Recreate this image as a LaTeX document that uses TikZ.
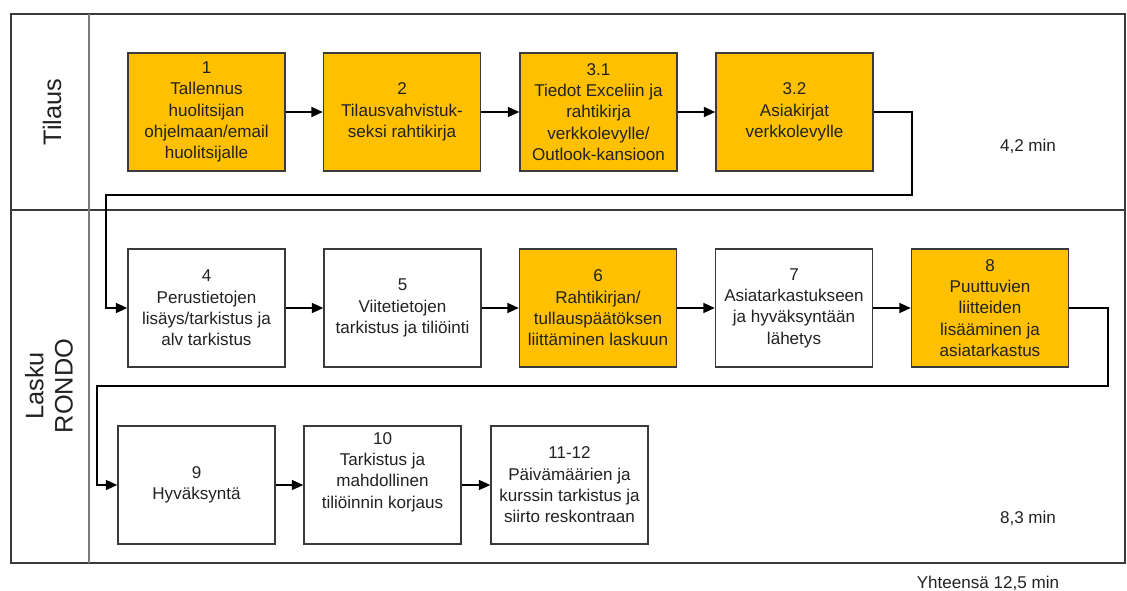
\documentclass[tikz,border=0pt]{standalone}
\usepackage{fontspec}
\setmainfont{Liberation Sans}
\usetikzlibrary{arrows.meta}
\definecolor{boxorange}{HTML}{FFC000}
\definecolor{framegray}{HTML}{3A3A3A}
\definecolor{lanegray}{HTML}{7A7A7A}
\definecolor{inkgray}{HTML}{222222}
\begin{document}
\begin{tikzpicture}[x=0.75pt,y=-0.75pt,
  stepbox/.style={draw=framegray, line width=1.1pt, fill=white,
    minimum width=117.75pt, minimum height=88.5pt, inner sep=1pt,
    align=center, text=inkgray, font=\fontsize{12.8}{16}\selectfont},
  hotbox/.style={stepbox, fill=boxorange},
  flow/.style={draw=black, line width=1pt, -{Triangle[length=8.5pt,width=7.5pt]}},
  lanelabel/.style={rotate=90, align=center, text=inkgray, font=\fontsize{19}{22}\selectfont},
  timelabel/.style={text=inkgray, font=\fontsize{12.8}{15}\selectfont}]
\useasboundingbox (0,0) rectangle (1127,590);

% swimlane frame
\draw[framegray, line width=1.5pt] (11,14) rectangle (1125,563);
\draw[framegray, line width=1.5pt] (11,210) -- (1125,210);
\draw[lanegray, line width=2pt] (89,14) -- (89,563);
\node[lanelabel] (lane1) at (52,112) {Tilaus};
\node[lanelabel] (lane2) at (49,386) {Lasku\\RONDO};

% lane 1: order
\node[hotbox] (b1)  at (206.5,112) {1\\Tallennus\\huolitsijan\\ohjelmaan/email\\huolitsijalle};
\node[hotbox] (b2)  at (402,112)   {2\\Tilausvahvistuk-\\seksi rahtikirja};
\node[hotbox] (b31) at (598.5,112) {3.1\\Tiedot Exceliin ja\\rahtikirja\\verkkolevylle/\\Outlook-kansioon};
\node[hotbox] (b32) at (794.5,112) {3.2\\Asiakirjat\\verkkolevylle};
\node[timelabel] (t1) at (1028,146) {4,2 min};

% lane 2: invoice, first row
\node[stepbox] (b4) at (206.5,308) {4\\Perustietojen\\lisäys/tarkistus ja\\alv tarkistus};
\node[stepbox] (b5) at (402.5,308) {5\\Viitetietojen\\tarkistus ja tiliöinti};
\node[hotbox]  (b6) at (598,308)   {6\\Rahtikirjan/\\tullauspäätöksen\\liittäminen laskuun};
\node[stepbox] (b7) at (794,308)   {7\\Asiatarkastukseen\\ja hyväksyntään\\lähetys};
\node[hotbox]  (b8) at (990,308)   {8\\Puuttuvien\\liitteiden\\lisääminen ja\\asiatarkastus};

% lane 2: invoice, second row
\node[stepbox] (b9)  at (196.5,485) {9\\Hyväksyntä};
\node[stepbox] (b10) at (382.5,485) {10\\Tarkistus ja\\mahdollinen\\tiliöinnin korjaus\\[6pt]};
\node[stepbox] (b11) at (569.5,485) {11-12\\Päivämäärien ja\\kurssin tarkistus ja\\siirto reskontraan};
\node[timelabel] (t2) at (1028,518) {8,3 min};

\node[timelabel] (tot) at (988,583) {Yhteensä 12,5 min};

% routing points
\coordinate (r1) at (912,195);
\coordinate (r2) at (106,195);
\coordinate (r3) at (1108,386);
\coordinate (r4) at (97,386);

% connectors
\draw[flow] (b1) -- (b2);
\draw[flow] (b2) -- (b31);
\draw[flow] (b31) -- (b32);
\draw[flow] (b32.east) -| (r1) -- (r2) |- (b4.west);
\draw[flow] (b4) -- (b5);
\draw[flow] (b5) -- (b6);
\draw[flow] (b6) -- (b7);
\draw[flow] (b7) -- (b8);
\draw[flow] (b8.east) -| (r3) -- (r4) |- (b9.west);
\draw[flow] (b9) -- (b10);
\draw[flow] (b10) -- (b11);
\end{tikzpicture}
\end{document}
